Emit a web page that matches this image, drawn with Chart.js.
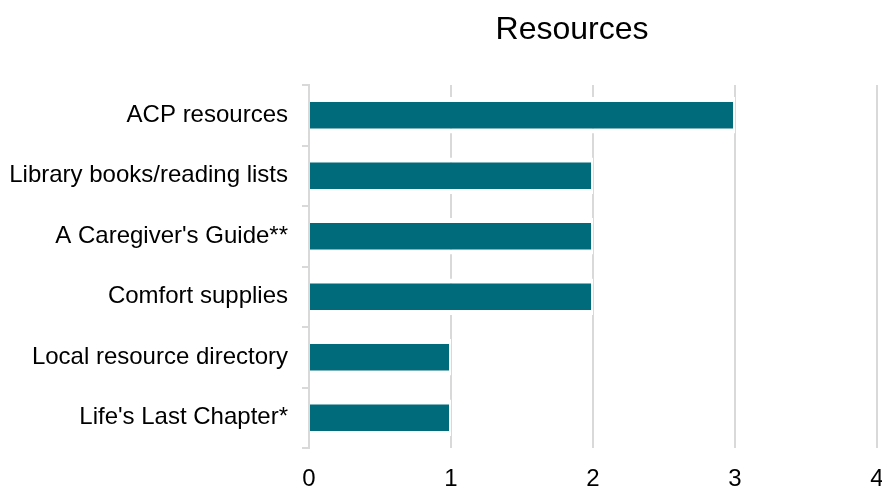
<!DOCTYPE html>
<html>
<head>
<meta charset="utf-8">
<script src="https://cdn.jsdelivr.net/npm/chart.js@4"></script>
<style>
html,body{margin:0;padding:0;background:#fff;}
#wrap{width:882px;height:487px;position:relative;}
</style>
</head>
<body>
<div id="wrap"><canvas id="c" width="882" height="487"></canvas></div>
<script>
const categories = ["ACP resources", "Library books/reading lists", "A Caregiver's Guide**", "Comfort supplies", "Local resource directory", "Life's Last Chapter*"];
const values = [3, 2, 2, 2, 1, 1];
const xTicks = [0, 1, 2, 3, 4];
const chartTitle = "Resources";

const FONT = "'Liberation Sans', Arial, sans-serif";

const titlePlugin = {
  id: 'customTitle',
  afterDraw(chart) {
    const ctx = chart.ctx;
    ctx.save();
    ctx.font = "32px " + FONT;
    ctx.fillStyle = "#000";
    ctx.textAlign = "center";
    ctx.textBaseline = "middle";
    ctx.fillText(chartTitle, 572, 30);
    ctx.restore();
  }
};

new Chart(document.getElementById('c'), {
  type: 'bar',
  data: {
    labels: categories,
    datasets: [{
      data: values,
      backgroundColor: '#006b7b',
      borderColor: '#ffffff',
      borderWidth: {top: 5, bottom: 5, right: 2, left: 0},
      borderSkipped: false,
      categoryPercentage: 1,
      barPercentage: 0.6
    }]
  },
  options: {
    indexAxis: 'y',
    responsive: false,
    animation: false,
    devicePixelRatio: 1,
    layout: {padding: {top: 85, right: 0, left: 0, bottom: 0}},
    plugins: {legend: {display: false}, title: {display: false}, tooltip: {enabled: false}},
    scales: {
      x: {
        min: 0, max: 4,
        afterBuildTicks(s) { s.ticks = xTicks.map(v => ({value: v})); },
        afterFit(s) { s.height = 39; s.paddingRight = 5; s.paddingLeft = 0; },
        grid: {color: '#d9d9d9', lineWidth: 2, drawTicks: false},
        border: {display: false},
        ticks: {font: {size: 24, family: FONT}, color: '#000', padding: 17, maxRotation: 0}
      },
      y: {
        afterFit(s) { s.width = 309; },
        grid: {drawOnChartArea: false, color: '#d9d9d9', lineWidth: 2, tickLength: 7, offset: true},
        border: {display: true, color: '#d9d9d9', width: 2},
        ticks: {font: {size: 24, family: FONT}, color: '#000', padding: 14}
      }
    }
  },
  plugins: [titlePlugin]
});
</script>
</body>
</html>
